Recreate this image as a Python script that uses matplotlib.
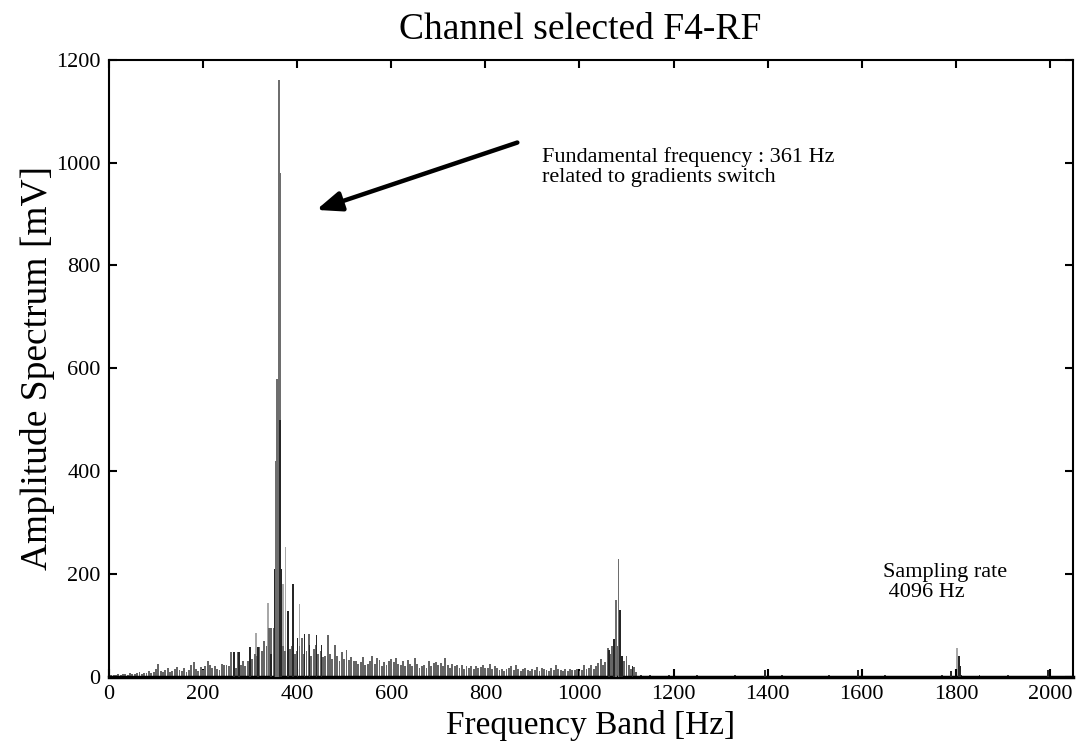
import matplotlib
matplotlib.use("Agg")
import matplotlib.pyplot as plt

# ---- data ----
floor_freq = list(range(5, 1125, 5))
floor_amp = [
    3, 4, 3, 5, 4, 6, 5, 4, 8, 6, 5, 7, 10, 6, 8, 7, 12, 8, 9, 15,
    25, 12, 10, 14, 18, 10, 12, 16, 19, 14, 12, 18, 10, 14, 22, 29, 16, 12, 19, 14,
    20, 30, 22, 18, 21, 16, 14, 24, 23, 22, 20, 49, 30, 18, 49, 22, 31, 20, 30, 58,
    35, 44, 40, 58, 50, 70, 60, 94, 94, 94, 80, 90, 75, 60, 50, 70, 55, 60, 45, 50,
    60, 75, 45, 50, 84, 40, 55, 62, 45, 50, 38, 40, 81, 45, 35, 62, 40, 30, 49, 35,
    52, 32, 38, 30, 30, 25, 28, 39, 22, 25, 30, 41, 25, 36, 32, 20, 28, 22, 30, 35,
    28, 37, 25, 23, 30, 20, 32, 25, 20, 36, 24, 18, 20, 22, 18, 30, 20, 26, 28, 22,
    26, 20, 36, 22, 18, 25, 20, 22, 18, 23, 16, 20, 18, 21, 15, 20, 18, 19, 22, 17,
    18, 24, 15, 20, 18, 14, 16, 12, 16, 18, 20, 14, 22, 16, 12, 15, 18, 14, 12, 16,
    14, 19, 12, 17, 15, 14, 12, 18, 14, 22, 16, 14, 12, 16, 12, 15, 14, 13, 16, 12,
    14, 22, 16, 18, 22, 15, 20, 26, 35, 22, 28, 56, 45, 60, 70, 60, 45, 35, 30, 41,
    22, 15, 19, 10,
]
tail_freq = list(range(1130, 2050, 20))
tail_amp = [4, 3, 2, 3, 2, 2, 3, 2, 2, 2, 3, 2, 2, 2, 2, 3, 2, 2, 2, 2, 3, 2, 2,
            2, 2, 2, 3, 2, 2, 2, 2, 2, 3, 4, 3, 2, 3, 2, 2, 3, 2, 2, 2, 2, 2, 2]

light_freq = [338, 370, 375, 405, 312, 505, 1100, 1200, 1803]
light_amp = [143, 180, 253, 141, 86, 52, 41, 12, 56]
mid_freq = [361, 363, 358, 355, 1083, 1078]
mid_amp = [1160, 980, 580, 420, 230, 150]
dark_freq = [352, 364, 366, 345, 380, 391, 401, 416, 426, 441, 452, 300, 317,
             277, 266, 1063, 1073, 1086, 1090, 1113, 1394, 1592, 1789, 1806,
             1810, 1996]
dark_amp = [210, 500, 210, 45, 127, 181, 75, 84, 62, 81, 62, 58, 58, 49, 49,
            53, 73, 130, 40, 21, 14, 14, 11, 40, 21, 13]

x_ticks = [0, 200, 400, 600, 800, 1000, 1200, 1400, 1600, 1800, 2000]
y_ticks = [0, 200, 400, 600, 800, 1000, 1200]

plt.rcParams['font.family'] = ['Liberation Serif', 'DejaVu Serif']

fig = plt.figure(figsize=(10.78, 7.47), dpi=100)
ax = fig.add_axes([0.101, 0.094, 0.894, 0.826])

ax.bar(light_freq, light_amp, width=3.5, color='#a8a8a8', linewidth=0, zorder=1)
ax.bar(floor_freq, floor_amp, width=4.0, color='#666666', linewidth=0, zorder=2)
ax.bar(tail_freq, tail_amp, width=3.8, color='#404040', linewidth=0, zorder=2)
ax.bar(mid_freq, mid_amp, width=4.0, color='#6e6e6e', linewidth=0, zorder=3)
ax.bar(dark_freq, dark_amp, width=3.5, color='#262626', linewidth=0, zorder=4)

ax.set_xlim(0, 2048)
ax.set_ylim(0, 1200)
ax.set_xticks(x_ticks)
ax.set_yticks(y_ticks)
ax.tick_params(direction='in', top=True, right=True, length=6, width=1.5,
               labelsize=16, pad=6)
for s in ax.spines.values():
    s.set_linewidth(1.5)
ax.spines['bottom'].set_linewidth(2.5)

fig.text(580 / 1078, 1 - 30 / 747, 'Channel selected F4-RF', fontsize=27,
         ha='center', va='center')
ax.set_xlabel('Frequency Band [Hz]', fontsize=24, labelpad=4)
ax.set_ylabel('Amplitude Spectrum [mV]', fontsize=27, labelpad=1)

ax.annotate('', xy=(441, 908), xytext=(868, 1039),
            arrowprops=dict(arrowstyle='-|>,head_length=1.5,head_width=0.6',
                            color='black', lw=3.2, shrinkA=0, shrinkB=0))
ax.text(921, 962, 'Fundamental frequency : 361 Hz\nrelated to gradients switch',
        fontsize=16, ha='left', va='baseline', linespacing=1.1)
ax.text(1645, 155, 'Sampling rate\n 4096 Hz', fontsize=16, ha='left',
        va='baseline', linespacing=1.1)

fig.savefig('out.png', dpi=100)
